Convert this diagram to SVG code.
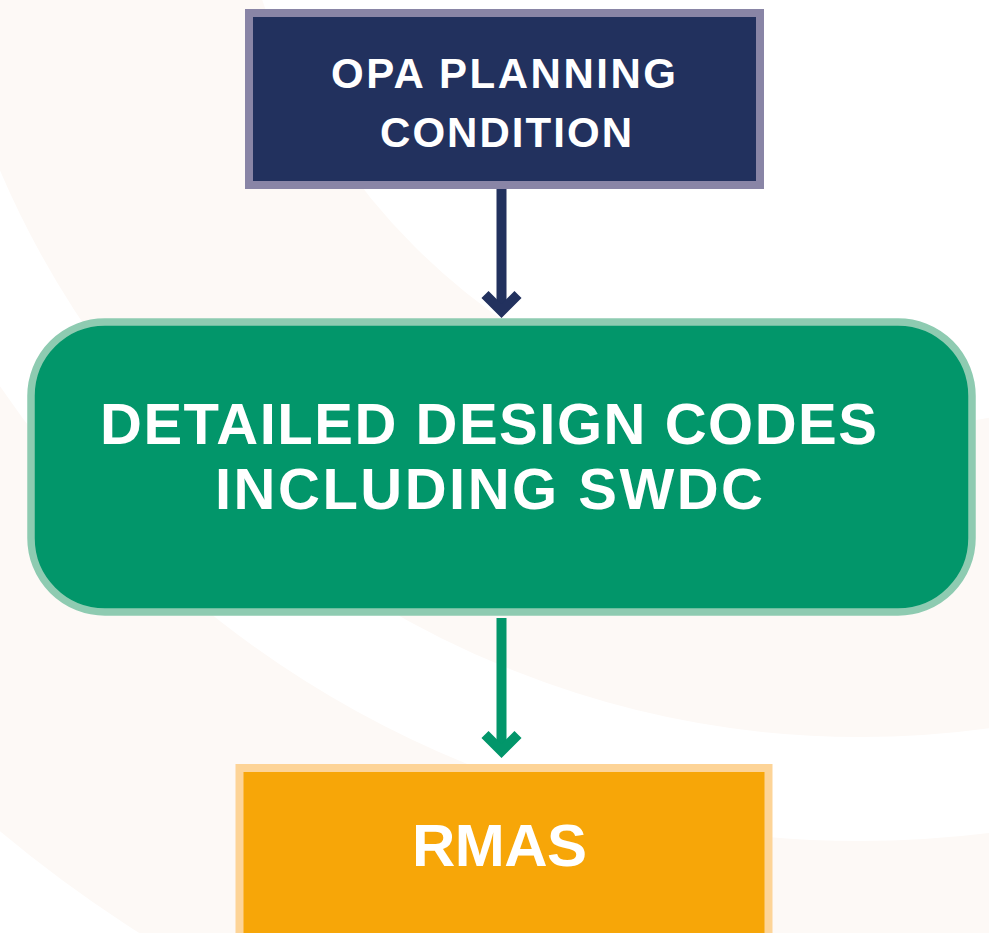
<svg xmlns="http://www.w3.org/2000/svg" width="989" height="933" viewBox="0 0 989 933">
  <style>
    .lbl { font-family: "Liberation Sans", Arial, sans-serif; font-weight: bold; fill: #ffffff; }
    .ring { fill: none; stroke: #fdf9f6; }
  </style>
  <rect x="0" y="0" width="989" height="933" fill="#ffffff"/>
  <g id="background">
    <circle class="ring" cx="860" cy="-199" r="783" stroke-width="306"/>
    <circle class="ring" cx="860" cy="-199" r="1191" stroke-width="302"/>
  </g>
  <g id="connectors">
    <line x1="501.5" y1="189" x2="501.5" y2="311" stroke="#22315e" stroke-width="10"/>
    <polyline points="485,294.5 501.5,311 518,294.5" fill="none" stroke="#22315e" stroke-width="10" stroke-linejoin="miter"/>
    <line x1="501.5" y1="618" x2="501.5" y2="751" stroke="#02966a" stroke-width="10"/>
    <polyline points="485,734.5 501.5,751 518,734.5" fill="none" stroke="#02966a" stroke-width="10" stroke-linejoin="miter"/>
  </g>
  <g id="node-opa">
    <rect x="249" y="13" width="511" height="172" fill="#22315e" stroke="#8985a6" stroke-width="8"/>
    <text class="lbl" x="331" y="88" font-size="42" textLength="345">OPA PLANNING</text>
    <text class="lbl" x="380" y="147" font-size="42" textLength="252">CONDITION</text>
  </g>
  <g id="node-design-codes">
    <rect x="31" y="322" width="941" height="290" rx="74" ry="74" fill="#02966a" stroke="#8ecbb1" stroke-width="7.5"/>
    <text class="lbl" x="100" y="444" font-size="58" textLength="777">DETAILED DESIGN CODES</text>
    <text class="lbl" x="215" y="509" font-size="58" textLength="548">INCLUDING SWDC</text>
  </g>
  <g id="node-rmas">
    <rect x="239.5" y="768" width="529" height="200" fill="#f7a608" stroke="#fdd497" stroke-width="8"/>
    <text class="lbl" x="412" y="866" font-size="60" textLength="175">RMAS</text>
  </g>
</svg>
